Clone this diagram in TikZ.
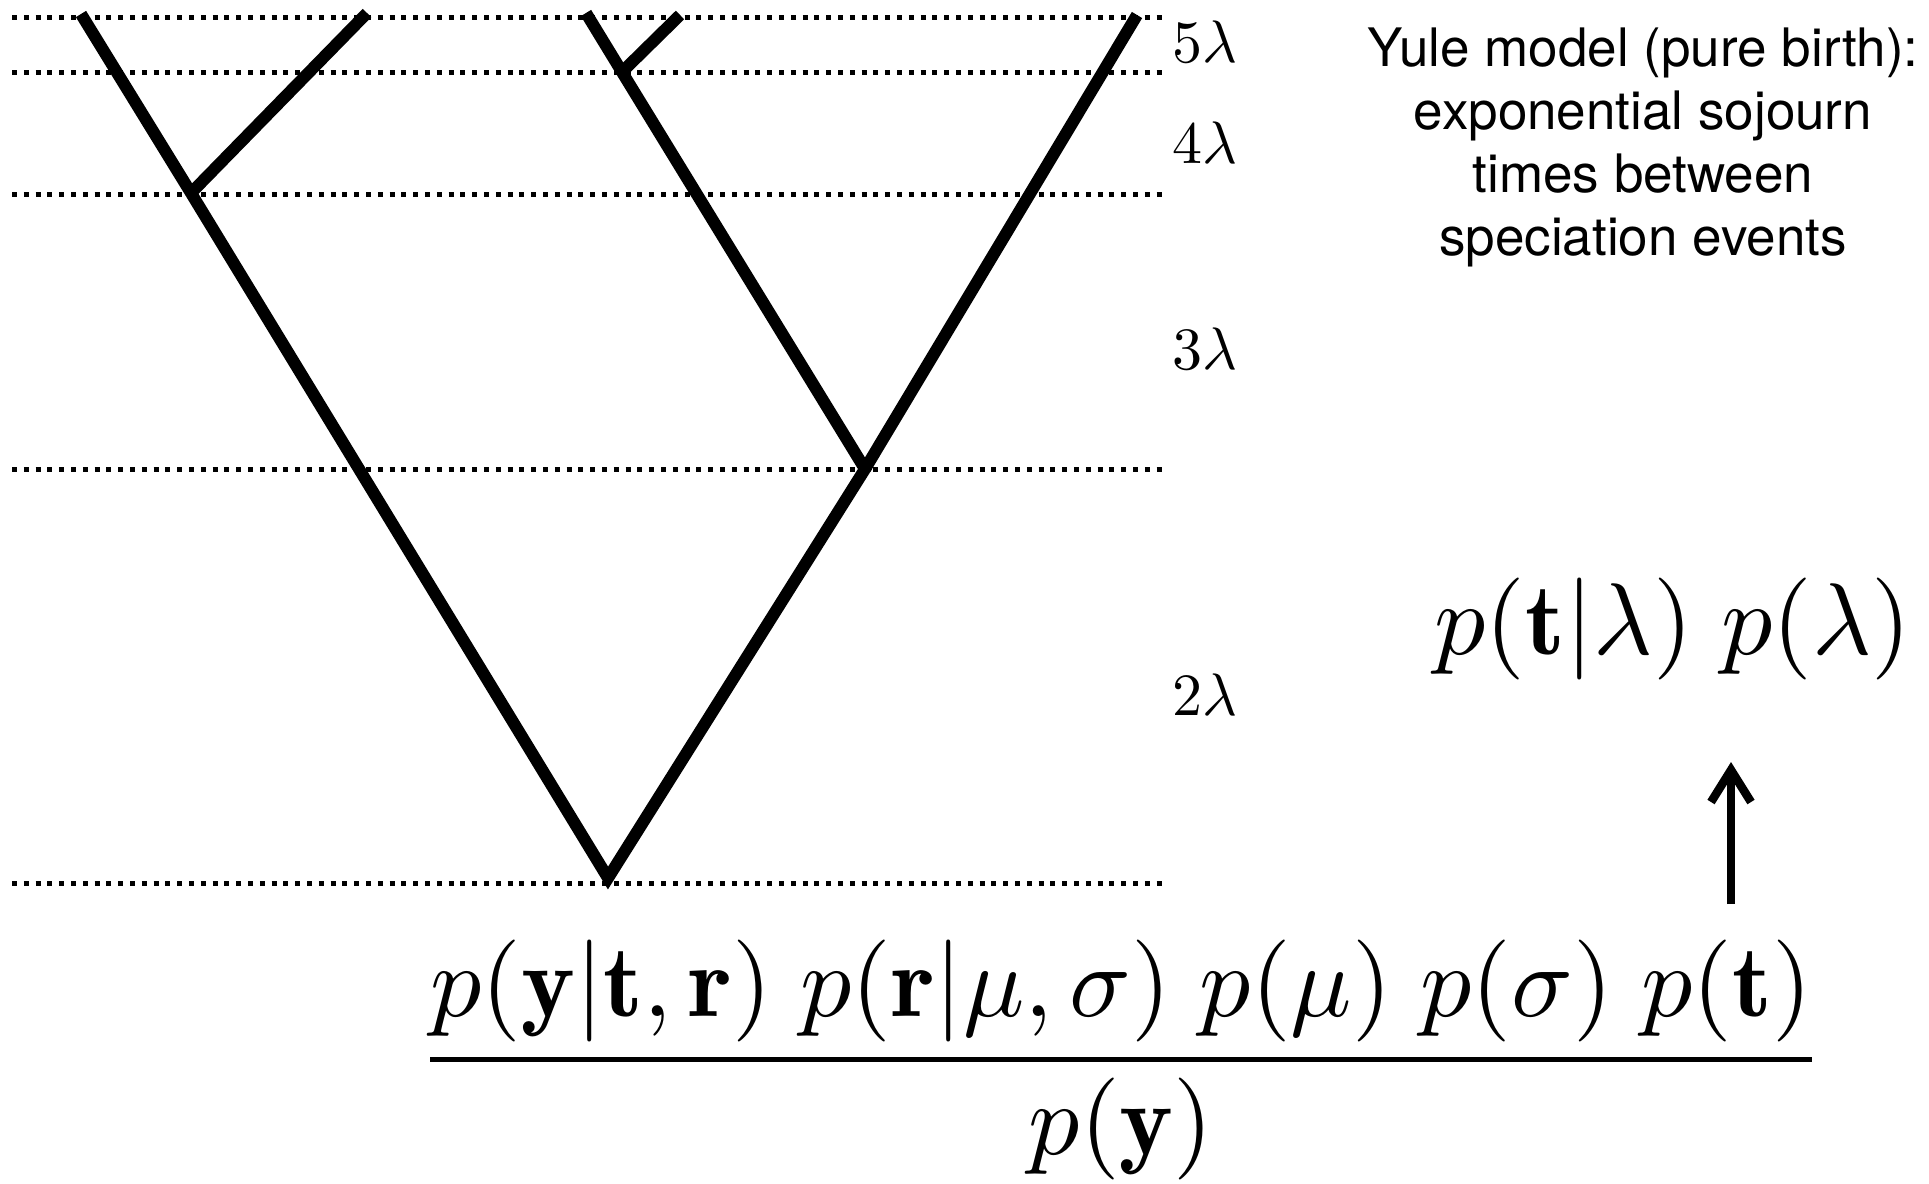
\RequirePackage{fix-cm}
\documentclass[tikz,border=0pt]{standalone}
\usepackage{amsmath}
\usepackage{graphicx}
\usepackage{fontspec}
\newfontfamily\yulefont{TeX Gyre Heros}
\usepackage{tikz}
\usetikzlibrary{arrows.meta}

\newcommand{\bigformula}[1]{\scalebox{10.2}{$#1$}}

\begin{document}
\begin{tikzpicture}[
    x=1pt, y=-1pt,
    branch/.style={
        line width=12pt,
        line cap=butt,
        line join=miter
    },
    level/.style={
        line width=5pt,
        dash pattern=on 5pt off 6.8pt
    },
    rate/.style={
        anchor=base west,
        inner sep=0pt,
        font=\fontsize{10}{12}\selectfont
    },
    bigmath/.style={
        anchor=base,
        inner sep=0pt,
        font=\fontsize{10}{12}\selectfont
    }
]

    \useasboundingbox (0,0) rectangle (1929,1183);

    % time slices of the Yule process
    \foreach \yy in {17,72,194,469,883}
        \draw[level] (12,\yy) -- (1163,\yy);

    \coordinate (l1) at (81,14);
    \coordinate (l2) at (367,13);
    \coordinate (l3) at (586,13);
    \coordinate (l4) at (680,15);
    \coordinate (l5) at (1137,15);
    \coordinate (nA) at (191,193);
    \coordinate (nB) at (622,72);
    \coordinate (nC) at (865,469);
    \coordinate (root) at (608,878);

    \draw[branch] (l1) -- (nA) -- (root) -- (nC) -- (nB) -- (l3);
    \draw[branch] (nA) -- (l2);
    \draw[branch] (nB) -- (l4);
    \draw[branch] (nC) -- (l5);

    \node[rate] (r5) at (1172,62) {\scalebox{6}{$5\lambda$}};
    \node[rate] (r4) at (1172,163) {\scalebox{6}{$4\lambda$}};
    \node[rate] (r3) at (1172,369) {\scalebox{6}{$3\lambda$}};
    \node[rate] (r2) at (1172,715) {\scalebox{6}{$2\lambda$}};

    \node[
        align=center,
        inner sep=0pt,
        font={\yulefont\fontsize{53}{63}\selectfont}
    ] (yule) at (1643,147) {Yule model (pure birth):\\
        exponential sojourn\\
        times between\\
        speciation events};

    \node[bigmath] (prior) at (1673,654)
        {\bigformula{p(\mathbf{t}|\lambda)\; p(\lambda)}};

    \node[bigmath] (bayes) at (1121,1085)
        {\bigformula{\dfrac{p(\mathbf{y}|\mathbf{t},\mathbf{r})\; p(\mathbf{r}|\mu,\sigma)\; p(\mu)\; p(\sigma)\; p(\mathbf{t})}{p(\mathbf{y})}}};

    \coordinate (arrtail) at (1731,904);
    \coordinate (arrhead) at (1731,762);

    \draw[
        -{Straight Barb[length=32pt,width=40pt]},
        line width=8.5pt
    ] (arrtail) -- (arrhead);

\end{tikzpicture}
\end{document}
